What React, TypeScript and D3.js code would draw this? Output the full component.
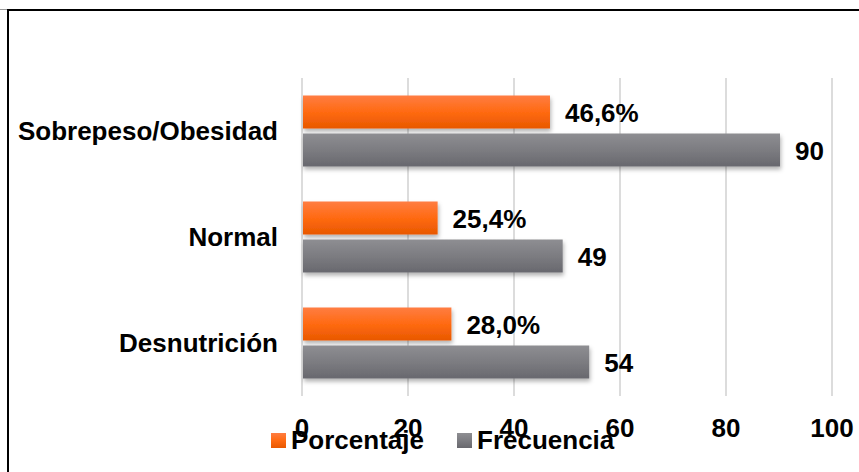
import React from "react";
import * as d3 from "d3";

const categories = ["Sobrepeso/Obesidad", "Normal", "Desnutrición"];
const porcentaje = [46.6, 25.4, 28.0];
const frecuencia = [90, 49, 54];
const ticks = [0, 20, 40, 60, 80, 100];
const seriesNames = ["Porcentaje", "Frecuencia"];

const W = 859;
const H = 472;
const FONT = "'Liberation Sans', Arial, sans-serif";

export default function App() {
  const x = d3.scaleLinear().domain([0, 100]).range([302, 832]);
  const y = d3.scaleBand<string>().domain(categories).range([78, 396]).paddingInner(0).paddingOuter(0);
  const barH = 33;
  const gap = 5;
  const groupH = barH * 2 + gap;
  const fmtPct = (v: number) => v.toFixed(1).replace(".", ",") + "%";

  return (
    <svg width={W} height={H} style={{ position: "absolute", left: 0, top: 0, background: "#fff" }}>
      <defs>
        <linearGradient id="gOrange" x1="0" y1="0" x2="0" y2="1">
          <stop offset="0" stopColor="#ff7d42" />
          <stop offset="0.5" stopColor="#ff6a12" />
          <stop offset="1" stopColor="#e85800" />
        </linearGradient>
        <linearGradient id="gGray" x1="0" y1="0" x2="0" y2="1">
          <stop offset="0" stopColor="#8e8e92" />
          <stop offset="0.5" stopColor="#7c7c81" />
          <stop offset="1" stopColor="#68686e" />
        </linearGradient>
        <filter id="shadow" x="-5%" y="-30%" width="110%" height="180%">
          <feDropShadow dx="1" dy="3" stdDeviation="2" floodColor="#000" floodOpacity="0.3" />
        </filter>
      </defs>
      <rect x={0} y={0} width={W} height={H} fill="#fff" />
      {/* border */}
      <line x1={0} x2={8} y1={9.5} y2={9.5} stroke="#999" strokeWidth={1} />
      <line x1={8} x2={W} y1={10} y2={10} stroke="#000" strokeWidth={2} />
      <line x1={8} x2={8} y1={9} y2={H} stroke="#000" strokeWidth={2} />

      {/* gridlines */}
      {ticks.map((t) => (
        <line key={"g" + t} x1={x(t)} x2={x(t)} y1={78} y2={396} stroke="#dcdcdc" strokeWidth={2} />
      ))}

      {/* bars */}
      {categories.map((c, i) => {
        const top = (y(c) as number) + (y.bandwidth() - groupH) / 2;
        const yO = top;
        const yG = top + barH + gap;
        return (
          <g key={c}>
            <rect x={x(0) + 1} y={yO} width={x(porcentaje[i]) - x(0)} height={barH} fill="url(#gOrange)" filter="url(#shadow)" />
            <rect x={x(0) + 1} y={yG} width={x(frecuencia[i]) - x(0)} height={barH} fill="url(#gGray)" filter="url(#shadow)" />
            <text x={x(porcentaje[i]) + 16} y={yO + barH / 2 + 9.5} fontFamily={FONT} fontWeight="bold" fontSize={26} fill="#000">
              {fmtPct(porcentaje[i])}
            </text>
            <text x={x(frecuencia[i]) + 16} y={yG + barH / 2 + 10} fontFamily={FONT} fontWeight="bold" fontSize={26} fill="#000">
              {frecuencia[i]}
            </text>
            <text x={278} y={top + groupH / 2 + 8.5} textAnchor="end" fontFamily={FONT} fontWeight="bold" fontSize={26} fill="#000">
              {c}
            </text>
          </g>
        );
      })}

      {/* tick labels */}
      {ticks.map((t) => (
        <text key={"t" + t} x={x(t)} y={437} textAnchor="middle" fontFamily={FONT} fontWeight="bold" fontSize={26} fill="#000">
          {t}
        </text>
      ))}

      {/* legend */}
      <rect x={271} y={433} width={15} height={15} fill="url(#gOrange)" />
      <text x={291} y={449} fontFamily={FONT} fontWeight="bold" fontSize={26} fill="#000">
        {seriesNames[0]}
      </text>
      <rect x={457} y={433} width={15} height={15} fill="url(#gGray)" />
      <text x={477} y={449} fontFamily={FONT} fontWeight="bold" fontSize={26} fill="#000">
        {seriesNames[1]}
      </text>
    </svg>
  );
}
